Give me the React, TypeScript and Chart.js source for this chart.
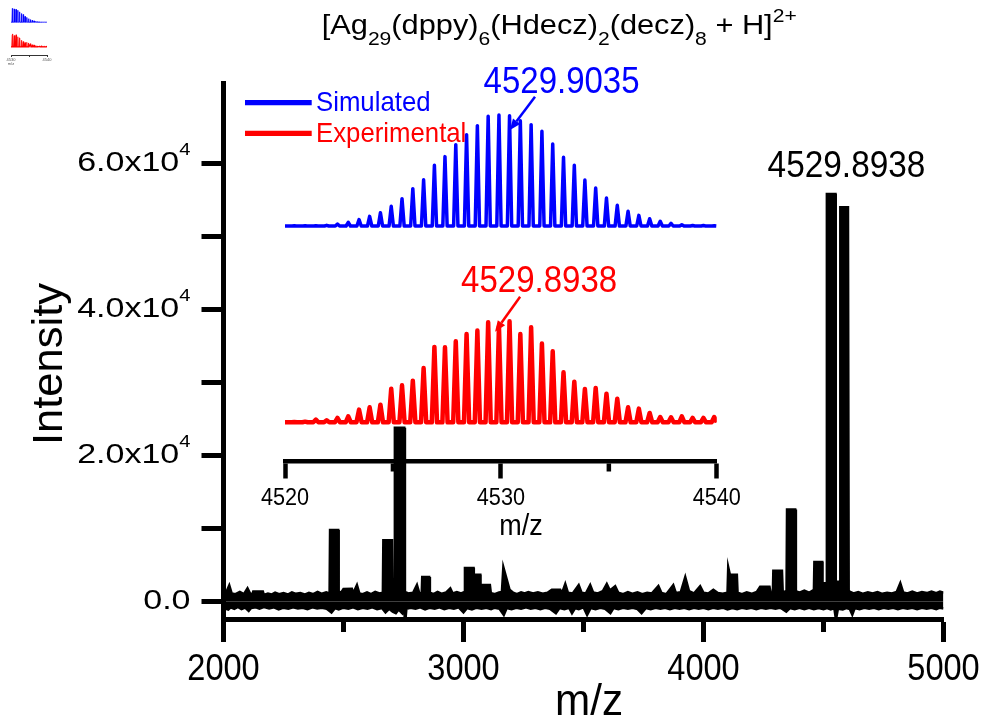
import React, { useEffect, useRef } from "react";
import { Chart, registerables } from "chart.js";

Chart.register(...registerables);

const FONT_FAMILY = "'Liberation Sans', Arial, Helvetica, sans-serif";
const BLUE = "#0000ff";
const RED = "#ff0000";

// ---------------- main spectrum ----------------
const mainXTicks = [2000, 3000, 4000, 5000];
const mainXTickLabels = ["2000", "3000", "4000", "5000"];
const mainXMinorTicks = [2500, 3500, 4500];
const mainYGridTicks = [0, 10000, 20000, 30000, 40000, 50000, 60000];
const mainYTicks = [0, 20000, 40000, 60000];
const mainYTickMantissa = ["0.0", "2.0x10", "4.0x10", "6.0x10"];
const mainYTickExponent = ["", "4", "4", "4"];
const xAxisTitle = "m/z";
const yAxisTitle = "Intensity";

// title segments: [text, kind]  kind: n = normal, b = subscript, p = superscript
const titleSegments: [string, string][] = [
  ["[Ag", "n"], ["29", "b"], ["(dppy)", "n"], ["6", "b"], ["(Hdecz)", "n"], ["2", "b"],
  ["(decz)", "n"], ["8", "b"], [" + H]", "n"], ["2+", "p"],
];

// upper edge of the noisy trace (m/z, intensity)
const spectrumUpper: [number, number][] = [
  [2000, 900], [2012, 1300], [2024, 2200], [2034, 1100], [2050, 1000], [2068, 1300], [2085, 1000],
  [2100, 1800], [2112, 1000], [2122, 1100], [2124, 1350], [2164, 1350], [2168, 900], [2185, 1100],
  [2200, 950], [2215, 1200], [2232, 1000], [2250, 1150], [2268, 950], [2285, 1250], [2302, 1050],
  [2320, 1150], [2338, 950], [2356, 1200], [2374, 1000], [2392, 1300], [2410, 1050], [2428, 1250],
  [2442, 1100], [2444, 9800], [2478, 9800], [2480, 1400], [2490, 1200], [2500, 1700], [2535, 1750],
  [2540, 1100], [2556, 2250], [2566, 1100], [2580, 1000], [2598, 1250], [2615, 1000], [2632, 1300],
  [2650, 1100], [2664, 1200], [2666, 8400], [2702, 8400], [2704, 1500], [2712, 1500], [2714, 23800],
  [2753, 23800], [2756, 1300], [2770, 1100], [2790, 1200], [2806, 2250], [2816, 1100], [2826, 1200],
  [2828, 3350], [2857, 3350], [2860, 1200], [2875, 1000], [2892, 1300], [2910, 1050], [2928, 1250],
  [2945, 1800], [2955, 1100], [2972, 1300], [2990, 1100], [3004, 1300], [3006, 4600], [3042, 4600],
  [3043, 3650], [3070, 3650], [3071, 2250], [3110, 2250], [3114, 1150], [3130, 1000], [3148, 1250],
  [3160, 1300], [3166, 4700], [3192, 1600], [3207, 1200], [3222, 1000], [3240, 1250], [3255, 1100],
  [3270, 1300], [3290, 1100], [3310, 1250], [3330, 1050], [3350, 1200], [3368, 1600], [3403, 1600],
  [3410, 1100], [3424, 2400], [3435, 1200], [3455, 1100], [3480, 2250], [3492, 1200], [3510, 1100],
  [3528, 2250], [3540, 1250], [3560, 1100], [3580, 1400], [3597, 2400], [3610, 1500], [3632, 2100],
  [3645, 1200], [3665, 1000], [3685, 1300], [3705, 1050], [3725, 1250], [3745, 1000], [3765, 1200],
  [3785, 1100], [3812, 2100], [3825, 1150], [3845, 1000], [3874, 2250], [3885, 1150], [3905, 1250],
  [3924, 3350], [3940, 1400], [3960, 1100], [3986, 2100], [4000, 1200], [4020, 1100], [4041, 1600],
  [4060, 1150], [4080, 1050], [4100, 1200], [4103, 4700], [4110, 3650], [4139, 3650], [4142, 1200],
  [4160, 1000], [4180, 1250], [4200, 1050], [4222, 1300], [4236, 2000], [4275, 2000], [4280, 1100],
  [4289, 1200], [4291, 4200], [4327, 4200], [4330, 1400], [4340, 1300], [4346, 1500], [4348, 12600],
  [4382, 12600], [4385, 1400], [4400, 1200], [4420, 1500], [4440, 1200], [4460, 1600], [4462, 5400],
  [4495, 5400], [4496, 2500], [4513, 2500], [4514, 55800], [4550, 55800], [4551, 2700], [4569, 2700],
  [4570, 54000], [4602, 54000], [4605, 1400], [4625, 1100], [4645, 1300], [4665, 1050], [4685, 1250],
  [4705, 1100], [4725, 1300], [4745, 1050], [4765, 1200], [4785, 1100], [4805, 1300], [4820, 2500],
  [4832, 1250], [4850, 1100], [4870, 1350], [4890, 1100], [4910, 1300], [4930, 1150], [4950, 1350],
  [4970, 1150], [4985, 1350], [5000, 1200],
];

// lower edge of the noisy trace (m/z, intensity)
const spectrumLower: [number, number][] = [
  [2000, -900], [2020, -1100], [2030, -800], [2045, -1000], [2060, -750], [2075, -1050], [2090, -850],
  [2105, -1300], [2115, -900], [2135, -800], [2150, -1000], [2170, -750], [2190, -950], [2210, -800],
  [2230, -1100], [2250, -850], [2270, -1000], [2290, -800], [2310, -950], [2330, -850], [2350, -1050],
  [2370, -800], [2390, -950], [2410, -850], [2430, -1000], [2450, -1500], [2465, -900], [2480, -1100],
  [2500, -850], [2520, -1000], [2540, -800], [2560, -1050], [2580, -850], [2600, -1000], [2620, -800],
  [2640, -1050], [2660, -900], [2675, -1500], [2690, -1000], [2705, -1400], [2718, -1600], [2730, -1100],
  [2745, -1600], [2752, -1000], [2757, -2900], [2762, -1000], [2780, -850], [2800, -1000], [2820, -800],
  [2840, -1100], [2860, -850], [2880, -1000], [2900, -800], [2920, -1050], [2940, -850], [2960, -1000],
  [2980, -800], [3000, -1500], [3015, -900], [3035, -1100], [3055, -850], [3075, -1000], [3095, -850],
  [3115, -1050], [3130, -850], [3150, -1000], [3168, -1850], [3180, -900], [3200, -1050], [3220, -850],
  [3240, -1000], [3260, -800], [3280, -1000], [3300, -850], [3320, -1050], [3340, -850], [3360, -1000],
  [3385, -1600], [3400, -900], [3420, -1050], [3440, -850], [3452, -1600], [3465, -900], [3480, -1050],
  [3500, -800], [3515, -1850], [3530, -900], [3550, -1050], [3570, -850], [3590, -1000], [3612, -1600],
  [3625, -900], [3645, -1050], [3665, -850], [3685, -1000], [3705, -850], [3725, -1050], [3742, -1600],
  [3760, -900], [3780, -1050], [3800, -850], [3820, -1000], [3840, -850], [3860, -1050], [3880, -850],
  [3900, -1000], [3920, -850], [3940, -1050], [3960, -850], [3980, -1000], [4000, -850], [4020, -1050],
  [4040, -850], [4060, -1000], [4080, -850], [4100, -1100], [4120, -900], [4140, -1050], [4160, -850],
  [4180, -1000], [4200, -850], [4220, -1050], [4240, -850], [4260, -1000], [4280, -850], [4300, -1000],
  [4318, -850], [4330, -1050], [4345, -1400], [4360, -900], [4380, -1050], [4400, -850], [4420, -1050],
  [4440, -850], [4460, -1050], [4480, -900], [4500, -1050], [4515, -900], [4530, -1100], [4545, -900],
  [4552, -2500], [4560, -1000], [4580, -1100], [4595, -900], [4610, -1050], [4620, -1800], [4630, -900],
  [4650, -1050], [4670, -850], [4690, -1000], [4710, -850], [4730, -1050], [4750, -850], [4770, -1000],
  [4790, -850], [4810, -1050], [4830, -850], [4850, -1000], [4870, -850], [4890, -1050], [4910, -850],
  [4930, -1000], [4950, -850], [4970, -1050], [4985, -850], [5000, -950],
];

const mainAnnotation = { text: "4529.8938", mz: 4595.8, intensity: 58150 };

// ---------------- inset: isotope pattern ----------------
const isotopeMz = [
  4520.43, 4520.93, 4521.43, 4521.93, 4522.43, 4522.93, 4523.43, 4523.92, 4524.42, 4524.92,
  4525.42, 4525.92, 4526.42, 4526.92, 4527.41, 4527.91, 4528.41, 4528.91, 4529.41, 4529.91,
  4530.40, 4530.90, 4531.40, 4531.90, 4532.40, 4532.90, 4533.40, 4533.89, 4534.39, 4534.89,
  4535.39, 4535.89, 4536.39, 4536.89, 4537.38, 4537.88, 4538.38, 4538.88, 4539.38, 4539.88,
];
// relative intensity (%)
const simulatedPct = [
  0.2, 0.2, 0.3, 0.6, 1.8, 3.3, 5.7, 8.7, 12, 17.7,
  24.6, 33.6, 41.7, 54.7, 62.5, 73.3, 82.3, 90.4, 98.8, 100,
  99.4, 94.9, 91.3, 85.3, 73.9, 61.9, 54.7, 41.4, 34.2, 25.2,
  18.6, 13.2, 9.6, 6.6, 4.2, 2.4, 1.2, 0.5, 0.4, 0.2,
];
const experimentalPct = [
  0.3, 0.6, 2.4, 1.8, 3.9, 5.4, 11.4, 13.5, 15.9, 30.3,
  33.3, 37.5, 48.9, 67.9, 67.6, 73, 79.6, 82.6, 90.1, 86.5,
  91, 79.6, 85.6, 70.9, 64, 45, 36.6, 30, 30.9, 25.8,
  21.3, 13.5, 12.3, 8.4, 4.8, 4.5, 5.4, 3.9, 3.9, 4.8,
];
const insetSeriesNames = ["Simulated", "Experimental"];
const insetXTicks = [4520, 4530, 4540];
const insetXTickLabels = ["4520", "4530", "4540"];
const insetXMinorTicks = [4525, 4535];
const insetXTitle = "m/z";
const thumbXTicks = [4530, 4535, 4540];
const thumbXTickLabels = ["4530", "4540"];

const insetAnnotations = [
  { text: "4529.9035", color: BLUE, labelMz: 4532.81, labelY: 368.5, tailMz: 4531.58, tailY: 364.8, tipMz: 4530.42, tipY: 331.5 },
  { text: "4529.8938", color: RED, labelMz: 4531.77, labelY: 169.8, tailMz: 4530.89, tailY: 164.8, tipMz: 4529.73, tipY: 129.8 },
];

// layout constants of the inset (vertical stacking of the two traces)
const INSET_Y_MAX = 380;
const SIM_OFFSET = 235.5;
const EXP_OFFSET = 39.2;
const PCT_UNITS = 1.11;

// ---------------- helpers ----------------
type Seg = { text: string; size: number; dy: number };

function drawRich(ctx: any, segs: Seg[], x: number, y: number, opts: any) {
  ctx.save();
  let total = 0;
  const widths = segs.map((s) => {
    ctx.font = `${s.size}px ${FONT_FAMILY}`;
    const w = ctx.measureText(s.text).width;
    total += w;
    return w;
  });
  const sx = opts.width ? opts.width / total : opts.sx ?? 1;
  ctx.translate(x, y);
  if (opts.rotate) ctx.rotate(opts.rotate);
  ctx.scale(sx, 1);
  let start = opts.align === "center" ? -total / 2 : opts.align === "right" ? -total : 0;
  ctx.fillStyle = opts.color ?? "#000";
  ctx.textBaseline = "alphabetic";
  ctx.textAlign = "left";
  segs.forEach((s, i) => {
    ctx.font = `${s.size}px ${FONT_FAMILY}`;
    ctx.fillText(s.text, start, s.dy);
    start += widths[i];
  });
  ctx.restore();
}

function isotopeProfile(mz: number[], pct: number[], offset: number, halfWidth: number) {
  const pts: { x: number; y: number }[] = [{ x: 4520, y: offset }];
  mz.forEach((m, i) => {
    pts.push({ x: m - halfWidth, y: offset });
    pts.push({ x: m, y: offset + pct[i] * PCT_UNITS });
    pts.push({ x: m + halfWidth, y: offset });
  });
  const lastX = pts[pts.length - 1].x;
  pts.push({ x: Math.max(4540, lastX), y: offset });
  return pts;
}

const setTicks = (values: number[]) => (s: any) => {
  s.ticks = values.map((v) => ({ value: v }));
};

// ---------------- plugins ----------------
const mainDecorPlugin = {
  id: "mainDecor",
  afterDraw(chart: any) {
    const { ctx, chartArea } = chart;
    const xs = chart.scales.x;
    const ys = chart.scales.y;
    ctx.save();
    ctx.strokeStyle = "#000";
    ctx.lineWidth = 5;
    mainXMinorTicks.forEach((v) => {
      const px = xs.getPixelForValue(v);
      ctx.beginPath();
      ctx.moveTo(px, chartArea.bottom + 2);
      ctx.lineTo(px, chartArea.bottom + 13);
      ctx.stroke();
    });
    ctx.restore();

    mainXTicks.forEach((v, i) => {
      drawRich(ctx, [{ text: mainXTickLabels[i], size: 37, dy: 0 }], xs.getPixelForValue(v), chartArea.bottom + 61, { align: "center", sx: 0.88 });
    });
    mainYTicks.forEach((v, i) => {
      const py = ys.getPixelForValue(v);
      const segs: Seg[] = [{ text: mainYTickMantissa[i], size: 27, dy: 7.6 }];
      if (mainYTickExponent[i]) segs.push({ text: mainYTickExponent[i], size: 16, dy: -8.3 });
      drawRich(ctx, segs, chartArea.left - 33, py, { align: "right", sx: 1.26 });
    });
    drawRich(ctx, [{ text: xAxisTitle, size: 44, dy: 0 }], (chartArea.left + chartArea.right) / 2 + 5.5, 715, { align: "center", sx: 0.96 });
    drawRich(ctx, [{ text: yAxisTitle, size: 42, dy: 0 }], 62, 364, { align: "center", width: 162, rotate: -Math.PI / 2 });

    const titleSegs: Seg[] = titleSegments.map(([t, k]) =>
      k === "n" ? { text: t, size: 27, dy: 0 } : k === "b" ? { text: t, size: 18.5, dy: 11.5 } : { text: t, size: 18.5, dy: -11.8 }
    );
    drawRich(ctx, titleSegs, 321.7, 33.5, { align: "left", width: 475 });

    drawRich(ctx, [{ text: mainAnnotation.text, size: 37.5, dy: 0 }], xs.getPixelForValue(mainAnnotation.mz), ys.getPixelForValue(mainAnnotation.intensity), { align: "center", sx: 0.89 });
  },
};

const insetDecorPlugin = {
  id: "insetDecor",
  afterDraw(chart: any) {
    const { ctx, chartArea } = chart;
    const xs = chart.scales.x;
    const ys = chart.scales.y;
    ctx.save();
    ctx.strokeStyle = "#000";
    ctx.lineWidth = 4.5;
    insetXMinorTicks.forEach((v) => {
      const px = xs.getPixelForValue(v);
      ctx.beginPath();
      ctx.moveTo(px, chartArea.bottom + 2);
      ctx.lineTo(px, chartArea.bottom + 10);
      ctx.stroke();
    });
    ctx.restore();
    insetXTicks.forEach((v, i) => {
      drawRich(ctx, [{ text: insetXTickLabels[i], size: 23.3, dy: 0 }], xs.getPixelForValue(v), chartArea.bottom + 43.5, { align: "center", sx: 0.93 });
    });
    drawRich(ctx, [{ text: insetXTitle, size: 29, dy: 0 }], (chartArea.left + chartArea.right) / 2 + 20, chartArea.bottom + 73.5, { align: "center", sx: 0.93 });

    // legend
    chart.data.datasets.forEach((ds: any, i: number) => {
      const y = 102.7 + i * 30.6;
      ctx.save();
      ctx.strokeStyle = ds.borderColor;
      ctx.lineWidth = 5.3;
      ctx.beginPath();
      ctx.moveTo(245, y);
      ctx.lineTo(311.7, y);
      ctx.stroke();
      ctx.restore();
      drawRich(ctx, [{ text: ds.label, size: 28, dy: 0 }], 316, y + 8.2, { align: "left", sx: 0.92, color: ds.borderColor });
    });

    // annotations with arrows
    insetAnnotations.forEach((a) => {
      drawRich(ctx, [{ text: a.text, size: 37.5, dy: 0 }], xs.getPixelForValue(a.labelMz), ys.getPixelForValue(a.labelY), { align: "center", sx: 0.88, color: a.color });
      const x1 = xs.getPixelForValue(a.tailMz), y1 = ys.getPixelForValue(a.tailY);
      const x2 = xs.getPixelForValue(a.tipMz), y2 = ys.getPixelForValue(a.tipY);
      const ang = Math.atan2(y2 - y1, x2 - x1);
      const head = 11, hw = 4.5;
      const bx = x2 - head * Math.cos(ang), by = y2 - head * Math.sin(ang);
      ctx.save();
      ctx.strokeStyle = a.color;
      ctx.fillStyle = a.color;
      ctx.lineWidth = 2.5;
      ctx.beginPath();
      ctx.moveTo(x1, y1);
      ctx.lineTo(bx, by);
      ctx.stroke();
      ctx.beginPath();
      ctx.moveTo(x2, y2);
      ctx.lineTo(bx + hw * Math.sin(ang), by - hw * Math.cos(ang));
      ctx.lineTo(bx - hw * Math.sin(ang), by + hw * Math.cos(ang));
      ctx.closePath();
      ctx.fill();
      ctx.restore();
    });
  },
};

const thumbDecorPlugin = {
  id: "thumbDecor",
  afterDraw(chart: any) {
    const { ctx, chartArea } = chart;
    const xs = chart.scales.x;
    [thumbXTicks[0], thumbXTicks[2]].forEach((v, i) => {
      drawRich(ctx, [{ text: thumbXTickLabels[i], size: 4, dy: 0 }], xs.getPixelForValue(v), chartArea.bottom + 6, { align: "center", color: "#555" });
    });
    drawRich(ctx, [{ text: insetXTitle, size: 4, dy: 0 }], xs.getPixelForValue(thumbXTicks[0]), chartArea.bottom + 10, { align: "center", color: "#555" });
  },
};

// ---------------- configs ----------------
function mainConfig(): any {
  return {
    type: "line",
    data: {
      datasets: [
        { label: "upper", data: spectrumUpper.map(([x, y]) => ({ x, y })), borderColor: "#000", backgroundColor: "#000", borderWidth: 2.5, pointRadius: 0, fill: "origin", tension: 0 },
        { label: "lower", data: spectrumLower.map(([x, y]) => ({ x, y })), borderColor: "#000", backgroundColor: "#000", borderWidth: 2.5, pointRadius: 0, fill: "origin", tension: 0 },
      ],
    },
    options: {
      animation: false,
      responsive: false,
      devicePixelRatio: 1,
      events: [],
      layout: { padding: { left: 123.5, right: 43.5, top: 83, bottom: 20 } },
      plugins: { legend: { display: false }, tooltip: { enabled: false }, title: { display: false } },
      scales: {
        x: {
          type: "linear", min: 2000, max: 5000,
          ticks: { display: false },
          afterBuildTicks: setTicks(mainXTicks),
          grid: { display: true, drawOnChartArea: false, drawTicks: true, tickLength: 23, tickWidth: 5, tickColor: "#000" },
          border: { display: true, width: 5, color: "#000" },
          afterFit: (s: any) => { s.height = 80; },
        },
        y: {
          type: "linear", min: -2400, max: 71000,
          ticks: { display: false },
          afterBuildTicks: setTicks(mainYGridTicks),
          grid: { display: true, drawOnChartArea: false, drawTicks: true, tickLength: 22, tickWidth: 5, tickColor: "#000" },
          border: { display: true, width: 5, color: "#000" },
          afterFit: (s: any) => { s.width = 100; },
        },
      },
    },
    plugins: [mainDecorPlugin],
  };
}

function insetDatasets(width: number) {
  return [
    { label: insetSeriesNames[0], data: isotopeProfile(isotopeMz, simulatedPct, SIM_OFFSET, 0.1), borderColor: BLUE, borderWidth: 3.5 * width, pointRadius: 0, fill: false, tension: 0, borderJoinStyle: "round" },
    { label: insetSeriesNames[1], data: isotopeProfile(isotopeMz, experimentalPct, EXP_OFFSET, 0.12), borderColor: RED, borderWidth: 4.5 * width, pointRadius: 0, fill: false, tension: 0, borderJoinStyle: "round" },
  ];
}

function insetConfig(): any {
  return {
    type: "line",
    data: { datasets: insetDatasets(1) },
    options: {
      animation: false,
      responsive: false,
      devicePixelRatio: 1,
      events: [],
      layout: { padding: { left: 285, right: 270.2, top: 81.5, bottom: 197.5 } },
      plugins: { legend: { display: false }, tooltip: { enabled: false } },
      scales: {
        x: {
          type: "linear", min: 4520, max: 4540,
          ticks: { display: false },
          afterBuildTicks: setTicks(insetXTicks),
          grid: { display: true, drawOnChartArea: false, drawTicks: true, tickLength: 17, tickWidth: 4.5, tickColor: "#000" },
          border: { display: true, width: 4.5, color: "#000" },
          afterFit: (s: any) => { s.height = 60; },
        },
        y: { type: "linear", min: 0, max: INSET_Y_MAX, display: false },
      },
    },
    plugins: [insetDecorPlugin],
  };
}

function thumbConfig(): any {
  return {
    type: "line",
    data: { datasets: insetDatasets(0.25) },
    options: {
      animation: false,
      responsive: false,
      devicePixelRatio: 1,
      events: [],
      layout: { padding: { left: 11, right: 13, top: 4, bottom: 5 } },
      plugins: { legend: { display: false }, tooltip: { enabled: false } },
      scales: {
        x: {
          type: "linear", min: 4530, max: 4540,
          ticks: { display: false },
          afterBuildTicks: setTicks(thumbXTicks),
          grid: { display: true, drawOnChartArea: false, drawTicks: true, tickLength: 2, tickWidth: 0.8, tickColor: "#000" },
          border: { display: true, width: 0.8, color: "#000" },
          afterFit: (s: any) => { s.height = 10; },
        },
        y: { type: "linear", min: -25, max: INSET_Y_MAX, display: false },
      },
    },
    plugins: [thumbDecorPlugin],
  };
}

export default function App() {
  const mainRef = useRef<HTMLCanvasElement>(null);
  const insetRef = useRef<HTMLCanvasElement>(null);
  const thumbRef = useRef<HTMLCanvasElement>(null);

  useEffect(() => {
    const main = new Chart(mainRef.current as HTMLCanvasElement, mainConfig());
    const inset = new Chart(insetRef.current as HTMLCanvasElement, insetConfig());
    const thumb = new Chart(thumbRef.current as HTMLCanvasElement, thumbConfig());
    return () => {
      main.destroy();
      inset.destroy();
      thumb.destroy();
    };
  }, []);

  return (
    <div style={{ position: "absolute", left: 0, top: 0, width: 987, height: 719, background: "#fff", overflow: "hidden" }}>
      <canvas ref={mainRef} width={987} height={719} style={{ position: "absolute", left: 0, top: 0 }} />
      <canvas ref={insetRef} width={987} height={719} style={{ position: "absolute", left: 0, top: 0 }} />
      <canvas ref={thumbRef} width={60} height={70} style={{ position: "absolute", left: 0, top: 0 }} />
    </div>
  );
}
